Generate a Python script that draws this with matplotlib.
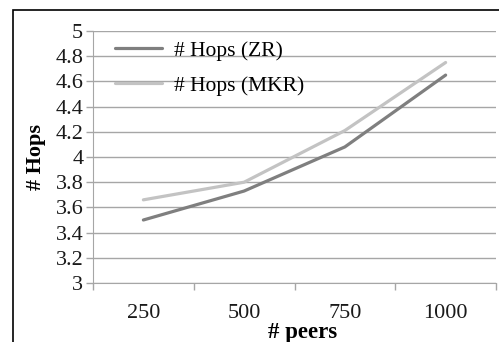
import matplotlib
matplotlib.use("Agg")
import matplotlib.pyplot as plt
from matplotlib.patches import Rectangle

# data
peers = ["250", "500", "750", "1000"]
hops_zr = [3.50, 3.73, 4.08, 4.65]
hops_mkr = [3.66, 3.80, 4.21, 4.75]
y_ticks = [3, 3.2, 3.4, 3.6, 3.8, 4, 4.2, 4.4, 4.6, 4.8, 5]

plt.rcParams["font.family"] = ["Liberation Serif", "DejaVu Serif"]

fig = plt.figure(figsize=(4.99, 3.42), dpi=100)
ax = fig.add_axes([93 / 499, 1 - 283 / 342, (496 - 93) / 499, (283 - 31) / 342])

x = list(range(len(peers)))
ax.plot(x, hops_zr, color="#7f7f7f", lw=2.3, label="# Hops (ZR)", solid_capstyle="round")
ax.plot(x, hops_mkr, color="#c3c3c3", lw=2.3, label="# Hops (MKR)", solid_capstyle="round")

ax.set_xlim(-0.5, len(peers) - 0.5)
ax.set_ylim(3, 5)
ax.set_yticks(y_ticks)
ax.set_yticklabels([f"{v:g}" for v in y_ticks])
ax.grid(axis="y", color="#a6a6a6", lw=1)
ax.set_axisbelow(True)

# category boundaries get tick marks, centres get labels
ax.set_xticks([i - 0.5 for i in range(len(peers) + 1)])
ax.set_xticklabels([])
ax.set_xticks(x, minor=True)
ax.set_xticklabels(peers, minor=True)
ax.tick_params(axis="x", which="major", length=5, color="#a6a6a6", width=1)
ax.tick_params(axis="x", which="minor", length=0, pad=15, labelsize=16, labelcolor="#1a1a1a")
ax.tick_params(axis="y", length=5, color="#a6a6a6", width=1, labelsize=16, labelcolor="#1a1a1a", pad=2)

for s in ["top", "right"]:
    ax.spines[s].set_visible(False)
for s in ["left", "bottom"]:
    ax.spines[s].set_color("#a6a6a6")

ax.set_xlabel("# peers", fontweight="bold", fontsize=16.5)
ax.xaxis.set_label_coords(0.52, -0.155)
ax.set_ylabel("# Hops", fontweight="bold", fontsize=16, labelpad=7)

leg = ax.legend(loc="upper left", bbox_to_anchor=(0.033, 0.995), frameon=False,
                borderaxespad=0, fontsize=15.5, handlelength=2.2,
                handletextpad=0.55, labelspacing=0.68)

# outer chart frame
fig.patches.append(Rectangle((13 / 499, -0.1), 1.2, 1 - 10 / 342 + 0.1,
                             transform=fig.transFigure, fill=False,
                             edgecolor="black", lw=1.2))

fig.savefig("out.png", dpi=100)
